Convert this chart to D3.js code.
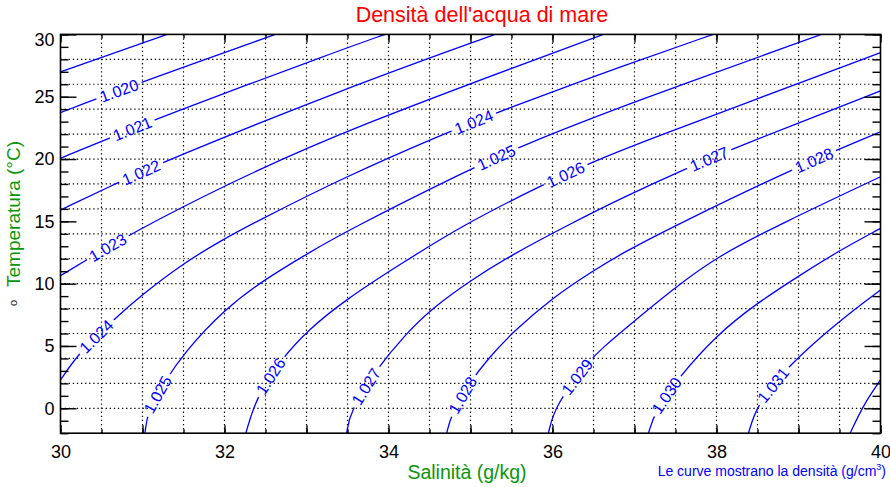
<!DOCTYPE html>
<html>
<head>
<meta charset="utf-8">
<script src="https://cdn.jsdelivr.net/npm/d3@7"></script>
<style>
  html, body { margin: 0; padding: 0; background: #fff; }
  svg { display: block; }
</style>
</head>
<body>
<div id="container"></div>
<script>
// density contours, points as [salinity, temperature]
const c1019 = [[30, 27.0], [31.3, 30]];
const c1020 = [[30, 23.72], [30.36, 24.65], [31.04, 26.28], [32.62, 30]];
const c1021 = [[30, 20.06], [30.54, 21.53], [31.2, 23.32], [33.47, 28.88], [33.96, 30]];
const c1022 = [[30, 15.91], [30.66, 17.98], [31.27, 19.82], [33.47, 25.67], [35.3, 30]];
const c1023 = [[30, 10.64], [30.28, 11.76], [30.84, 13.95], [32.01, 17.92], [33.47, 22.33], [36.62, 30]];
const c1024 = [[30, 2.27], [30.22, 4.41], [30.62, 6.95], [30.99, 9.09], [31.5, 11.66], [32.01, 13.64], [32.31, 14.71],
               [33.47, 18.58], [34.69, 22.06], [35.36, 23.85], [36.88, 27.54], [37.96, 30]];
const c1025 = [[31.03, -2], [31.06, -0.27], [31.27, 2.13], [31.5, 4.41], [32.01, 8.02], [32.51, 10.43], [33.02, 12.44],
               [33.47, 14.17], [34.97, 19.12], [35.6, 20.99], [36.88, 24.33], [39.28, 30]];
const c1026 = [[32.26, -2], [32.39, 0.93], [32.7, 4.01], [33.02, 6.28], [33.47, 8.69], [34.16, 11.63], [34.91, 14.7],
               [35.83, 17.78], [36.46, 19.66], [36.88, 20.86], [40, 28.53]];
const c1027 = [[33.49, -2], [33.53, -0.27], [33.86, 3.21], [34.2, 5.88], [34.53, 8.02], [35.01, 10.3], [35.5, 12.3],
               [36.19, 14.71], [36.88, 16.98], [37.59, 19.12], [38.24, 20.95], [40, 25.46]];
const c1028 = [[34.71, -2], [34.76, -0.54], [35.01, 2.27], [35.22, 4.01], [35.5, 6.02], [35.99, 8.83], [36.5, 11.05],
               [36.88, 12.56], [37.51, 14.71], [38.86, 18.98], [39.5, 20.8], [40, 22.19]];
const c1029 = [[35.95, -2], [36.03, 0.26], [36.46, 3.88], [36.58, 4.68], [37.01, 7.08], [37.51, 9.76], [38.0, 12.15],
               [38.8, 14.85], [40, 18.58]];
const c1030 = [[37.17, -2], [37.25, -0.27], [37.53, 2.41], [38.0, 5.88], [38.49, 8.42], [39.02, 10.69], [39.51, 12.7], [40, 14.44]];
const c1031 = [[38.39, -2], [38.49, 0.26], [38.86, 3.34], [39.51, 7.08], [40, 9.49]];
const c1032 = [[39.63, -2], [39.79, 0.26], [40, 2.27]];

const contourLevels = ["1.019", "1.020", "1.021", "1.022", "1.023", "1.024", "1.025",
                       "1.026", "1.027", "1.028", "1.029", "1.030", "1.031", "1.032"];
const contourPoints = [c1019, c1020, c1021, c1022, c1023, c1024, c1025,
                       c1026, c1027, c1028, c1029, c1030, c1031, c1032];

// where the contour labels sit
const labelText = ["1.020", "1.021", "1.022", "1.023", "1.024", "1.025", "1.026", "1.027", "1.028",
                   "1.029", "1.030", "1.031", "1.024", "1.025", "1.026", "1.027", "1.028"];
const labelS = [30.71, 30.87, 30.97, 30.56, 30.42, 31.16, 32.55, 33.7, 34.89,
                36.28, 37.38, 38.69, 35.03, 35.31, 36.15, 37.9, 39.18];
const labelT = [25.54, 22.54, 19.12, 13.05, 5.88, 1.2, 2.62, 1.87, 1.12,
                2.62, 1.07, 1.87, 23.07, 20.14, 18.85, 20.19, 20.06];

const xTicks = [30, 32, 34, 36, 38, 40];
const yTicks = [0, 5, 10, 15, 20, 25, 30];

const FONT = "'Liberation Sans', Arial, Helvetica, sans-serif";
const BLUE = "#0000ff";
const GREEN = "#0a960a";

const width = 890;
const height = 487;
const marginTop = 34.4;
const marginRight = 9.5;
const marginBottom = 53.8;
const marginLeft = 60.5;

const x = d3.scaleLinear()
    .domain([30, 40])
    .range([marginLeft, width - marginRight]);

const y = d3.scaleLinear()
    .domain([-2, 30])
    .range([height - marginBottom, marginTop]);

const svg = d3.select("#container").append("svg")
    .attr("width", width)
    .attr("height", height)
    .attr("font-family", FONT);

const plotW = x(40) - x(30);
const plotH = y(-2) - y(30);

const defs = svg.append("defs");
defs.append("clipPath").attr("id", "plot")
    .append("rect")
    .attr("x", x(30)).attr("y", y(30))
    .attr("width", plotW).attr("height", plotH);

const mask = defs.append("mask")
    .attr("id", "gaps")
    .attr("maskUnits", "userSpaceOnUse")
    .attr("x", 0).attr("y", 0)
    .attr("width", width).attr("height", height);
mask.append("rect")
    .attr("width", width).attr("height", height)
    .attr("fill", "#fff");

// dotted grid
svg.append("g")
    .selectAll("line")
    .data(x.ticks(20).filter(d => d > 30 && d < 40))
    .join("line")
    .attr("x1", d => x(d)).attr("x2", d => x(d))
    .attr("y1", y(30)).attr("y2", y(-2))
    .attr("stroke", "#000")
    .attr("stroke-width", 1.2)
    .attr("stroke-dasharray", "1.3,2.8");

svg.append("g")
    .selectAll("line")
    .data(y.ticks(16).filter(d => d > -2 && d < 30))
    .join("line")
    .attr("x1", x(30)).attr("x2", x(40))
    .attr("y1", d => y(d)).attr("y2", d => y(d))
    .attr("stroke", "#000")
    .attr("stroke-width", 1.2)
    .attr("stroke-dasharray", "1.3,2.8");

// contour lines
const line = d3.line()
    .x(d => x(d[0]))
    .y(d => y(d[1]))
    .curve(d3.curveBasis);

const paths = svg.append("g")
    .attr("clip-path", "url(#plot)")
    .append("g")
    .attr("mask", "url(#gaps)")
    .selectAll("path")
    .data(contourPoints)
    .join("path")
    .attr("d", line)
    .attr("fill", "none")
    .attr("stroke", BLUE)
    .attr("stroke-width", 1.3);

// contour labels, turned along the line
const labels = svg.append("g")
    .attr("fill", BLUE)
    .attr("font-size", 16);

labelText.forEach((t, i) => {
    const node = paths.nodes()[contourLevels.indexOf(t)];
    const total = node.getTotalLength();
    const px = x(labelS[i]), py = y(labelT[i]);
    let best = 0, bestD = Infinity;
    for (let l = 0; l <= total; l += 0.5) {
        const p = node.getPointAtLength(l);
        const dd = (p.x - px) ** 2 + (p.y - py) ** 2;
        if (dd < bestD) { bestD = dd; best = l; }
    }
    const p = node.getPointAtLength(best);
    const a = node.getPointAtLength(Math.max(0, best - 6));
    const b = node.getPointAtLength(Math.min(total, best + 6));
    let ang = Math.atan2(b.y - a.y, b.x - a.x) * 180 / Math.PI;
    if (ang > 90) ang -= 180;
    if (ang < -90) ang += 180;

    const txt = labels.append("text")
        .attr("transform", `translate(${p.x},${p.y}) rotate(${ang})`)
        .attr("text-anchor", "middle")
        .attr("dy", "0.36em")
        .text(t);
    const w = txt.node().getComputedTextLength();
    mask.append("rect")
        .attr("transform", `translate(${p.x},${p.y}) rotate(${ang})`)
        .attr("x", -w / 2 - 4).attr("y", -7)
        .attr("width", w + 8).attr("height", 14)
        .attr("fill", "#000");
});

// frame
svg.append("rect")
    .attr("x", x(30)).attr("y", y(30))
    .attr("width", plotW).attr("height", plotH)
    .attr("fill", "none")
    .attr("stroke", "#000")
    .attr("stroke-width", 1.6);

// ticks, all pointing inwards
function styleAxis(g) {
    g.select(".domain").remove();
    g.selectAll(".tick line").attr("stroke", "#000").attr("stroke-width", 1.4);
    g.attr("font-family", FONT).attr("font-size", 18);
    g.selectAll(".tick text").attr("fill", "#000");
}

const yBottom = y(-2), yTop = y(30);

svg.append("g").attr("transform", `translate(0,${yBottom})`)
    .call(d3.axisBottom(x).tickValues(x.ticks(20)).tickSize(-4).tickFormat(""))
    .call(styleAxis);
svg.append("g").attr("transform", `translate(0,${yBottom})`)
    .call(d3.axisBottom(x).tickValues(x.ticks(10)).tickSize(-8).tickPadding(12)
        .tickFormat(d => xTicks.includes(d) ? d : ""))
    .call(styleAxis);
svg.append("g").attr("transform", `translate(0,${yTop})`)
    .call(d3.axisTop(x).tickValues(x.ticks(20)).tickSize(-4).tickFormat(""))
    .call(styleAxis);
svg.append("g").attr("transform", `translate(0,${yTop})`)
    .call(d3.axisTop(x).tickValues(x.ticks(10)).tickSize(-8).tickFormat(""))
    .call(styleAxis);

svg.append("g").attr("transform", `translate(${x(30)},0)`)
    .call(d3.axisLeft(y).tickValues(y.ticks(32)).tickSize(-8).tickFormat(""))
    .call(styleAxis);
const yAxis = svg.append("g").attr("transform", `translate(${x(30)},0)`)
    .call(d3.axisLeft(y).tickValues(yTicks).tickSize(-16).tickPadding(6))
    .call(styleAxis);
yAxis.selectAll(".tick text").filter(d => d === 30).attr("dy", "0.62em");

svg.append("g").attr("transform", `translate(${x(40)},0)`)
    .call(d3.axisRight(y).tickValues(y.ticks(32)).tickSize(-8).tickFormat(""))
    .call(styleAxis);
svg.append("g").attr("transform", `translate(${x(40)},0)`)
    .call(d3.axisRight(y).tickValues(yTicks).tickSize(-16).tickFormat(""))
    .call(styleAxis);

// titles
svg.append("text")
    .attr("x", 482).attr("y", 22)
    .attr("text-anchor", "middle")
    .attr("font-size", 21.5)
    .attr("fill", "#ff0000")
    .text("Densità dell'acqua di mare");

svg.append("text")
    .attr("x", 467).attr("y", 479)
    .attr("text-anchor", "middle")
    .attr("font-size", 19.5)
    .attr("fill", GREEN)
    .text("Salinità (g/kg)");

svg.append("text")
    .attr("transform", "translate(20,214) rotate(-90)")
    .attr("text-anchor", "middle")
    .attr("font-size", 19)
    .attr("fill", GREEN)
    .text("Temperatura (°C)");

svg.append("text")
    .attr("transform", "translate(17,303) rotate(-90)")
    .attr("text-anchor", "middle")
    .attr("font-size", 11)
    .attr("fill", "#222")
    .text("o");

const note = svg.append("text")
    .attr("x", 886).attr("y", 476)
    .attr("text-anchor", "end")
    .attr("font-size", 14)
    .attr("fill", BLUE)
    .text("Le curve mostrano la densità (g/cm");
note.append("tspan").attr("dy", -6).attr("font-size", 9).text("3");
note.append("tspan").attr("dy", 6).text(")");
</script>
</body>
</html>
